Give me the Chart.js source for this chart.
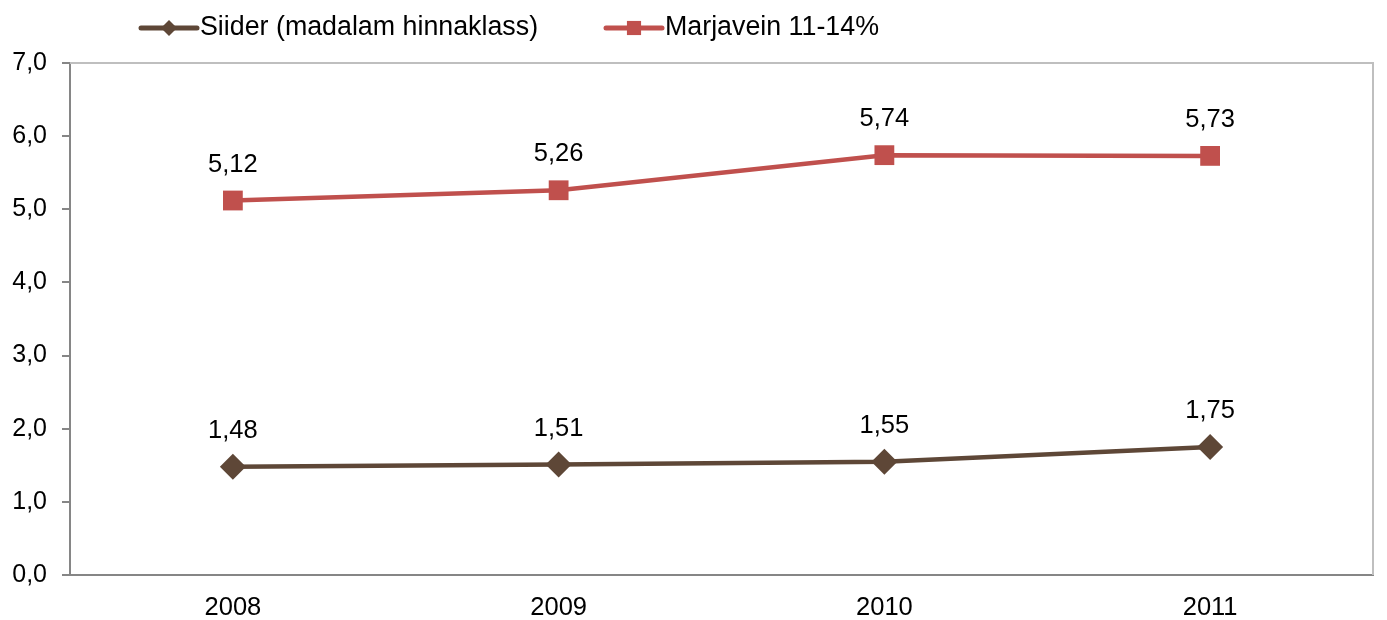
<!DOCTYPE html>
<html>
<head>
<meta charset="utf-8">
<script src="https://cdn.jsdelivr.net/npm/chart.js@4.4.0/dist/chart.umd.min.js"></script>
<style>
    html, body { margin: 0; padding: 0; background: #fff; overflow: hidden; }
    #wrap { width: 1387px; height: 620px; position: relative; }
</style>
</head>
<body>
<div id="wrap"><canvas id="lineChart"></canvas></div>
<script>
// Chart data
const years = ['2008', '2009', '2010', '2011'];
const siiderValues = [1.48, 1.51, 1.55, 1.75];
const marjaveinValues = [5.12, 5.26, 5.74, 5.73];
const seriesNames = ['Siider (madalam hinnaklass)', 'Marjavein 11-14%'];
const yMin = 0;
const yMax = 7;
const yStep = 1;

const FONT = '"Liberation Sans", Arial, sans-serif';
const BROWN = '#5e4737';
const RED = '#c0504d';
const AXIS = '#868686';
const FRAME = '#bfbfbf';

function fmt(v, digits) {
    return v.toFixed(digits).replace('.', ',');
}

// Light frame on top and right of the plot area
const framePlugin = {
    id: 'frame',
    beforeDatasetsDraw(chart) {
        const { ctx, chartArea: a } = chart;
        ctx.save();
        ctx.strokeStyle = FRAME;
        ctx.lineWidth = 2;
        ctx.beginPath();
        ctx.moveTo(a.left, a.top);
        ctx.lineTo(a.right, a.top);
        ctx.lineTo(a.right, a.bottom);
        ctx.stroke();
        ctx.restore();
    }
};

// Value labels above every point
const labelPlugin = {
    id: 'valueLabels',
    afterDatasetsDraw(chart) {
        const ctx = chart.ctx;
        ctx.save();
        ctx.font = '25.5px ' + FONT;
        ctx.fillStyle = '#000';
        ctx.textAlign = 'center';
        ctx.textBaseline = 'middle';
        chart.data.datasets.forEach((ds, i) => {
            chart.getDatasetMeta(i).data.forEach((pt, j) => {
                ctx.fillText(fmt(ds.data[j], 2), pt.x, pt.y - 36);
            });
        });
        ctx.restore();
    }
};

// Legend with line + marker, like the spreadsheet one
const legendPlugin = {
    id: 'lineLegend',
    afterDraw(chart) {
        const ctx = chart.ctx;
        const items = [
            { x: 141, color: BROWN, style: 'rectRot', radius: 8 },
            { x: 606, color: RED, style: 'rect', radius: 10 }
        ];
        const y = 28;
        ctx.save();
        ctx.font = '26.8px ' + FONT;
        ctx.textBaseline = 'middle';
        ctx.textAlign = 'left';
        items.forEach((it, i) => {
            ctx.strokeStyle = it.color;
            ctx.lineWidth = 5;
            ctx.lineCap = 'round';
            ctx.beginPath();
            ctx.moveTo(it.x, y);
            ctx.lineTo(it.x + 56, y);
            ctx.stroke();
            ctx.fillStyle = it.color;
            Chart.helpers.drawPoint(ctx, { pointStyle: it.style, radius: it.radius, borderWidth: 0, rotation: 0 }, it.x + 28, y);
            ctx.fillStyle = '#000';
            ctx.fillText(seriesNames[i], it.x + 59, y);
        });
        ctx.restore();
    }
};

new Chart(document.getElementById('lineChart'), {
    type: 'line',
    data: {
        labels: years,
        datasets: [{
            label: seriesNames[0],
            data: siiderValues,
            borderColor: BROWN,
            backgroundColor: BROWN,
            borderWidth: 4.5,
            pointStyle: 'rectRot',
            pointRadius: 13,
            pointBorderWidth: 0,
            tension: 0,
            fill: false
        }, {
            label: seriesNames[1],
            data: marjaveinValues,
            borderColor: RED,
            backgroundColor: RED,
            borderWidth: 4.5,
            pointStyle: 'rect',
            pointRadius: 14,
            pointBorderWidth: 0,
            tension: 0,
            fill: false
        }]
    },
    options: {
        responsive: true,
        maintainAspectRatio: false,
        animation: false,
        layout: { padding: { top: 63, right: 8, left: 0, bottom: 0 } },
        plugins: {
            legend: { display: false },
            tooltip: { enabled: false }
        },
        scales: {
            x: {
                offset: true,
                grid: { display: false, drawTicks: false },
                border: { display: true, color: AXIS, width: 2 },
                ticks: {
                    color: '#000',
                    font: { family: FONT, size: 25.5 },
                    padding: 18
                },
                afterFit(scale) { scale.height = 45; }
            },
            y: {
                min: yMin,
                max: yMax,
                grid: { drawOnChartArea: false, color: AXIS, lineWidth: 2, tickLength: 8 },
                border: { display: true, color: AXIS, width: 2 },
                ticks: {
                    stepSize: yStep,
                    color: '#000',
                    font: { family: FONT, size: 25 },
                    padding: 15,
                    callback: v => fmt(v, 1)
                },
                afterFit(scale) { scale.width = 70; }
            }
        }
    },
    plugins: [framePlugin, labelPlugin, legendPlugin]
});
</script>
</body>
</html>
